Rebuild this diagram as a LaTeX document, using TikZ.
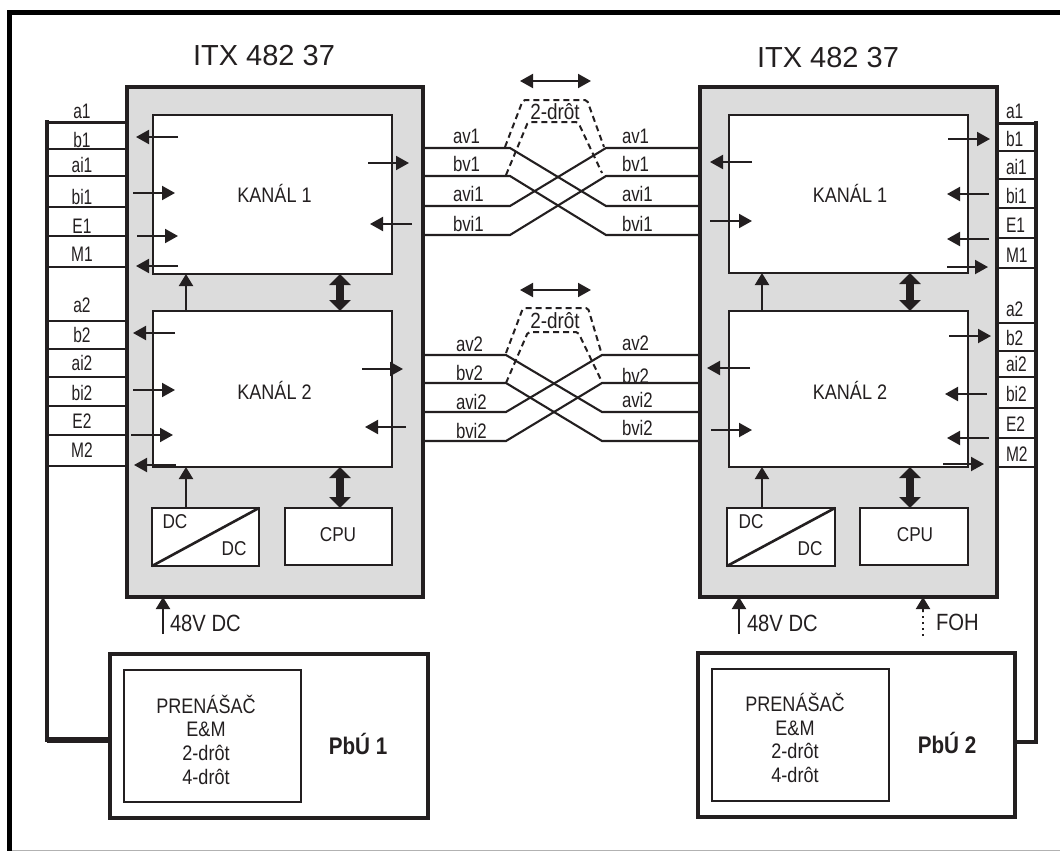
\documentclass[tikz,border=0pt]{standalone}
\usepackage{fontspec}
\setmainfont{Liberation Sans}
\newfontfamily\narrowf[FakeStretch=0.74]{Liberation Sans}
\newfontfamily\wiref[FakeStretch=0.8]{Liberation Sans}
\newfontfamily\midf[FakeStretch=0.86]{Liberation Sans}
\newfontfamily\midbf[FakeStretch=0.86]{Liberation Sans Bold}
\usetikzlibrary{arrows.meta}
\definecolor{ink}{HTML}{231F20}
\definecolor{panel}{HTML}{DCDCDC}
\tikzset{
  unit/.style={draw=ink,line width=4pt,fill=panel,inner sep=0pt,outer sep=0pt},
  block/.style={draw=ink,line width=2.6pt,fill=white,inner sep=0pt,outer sep=0pt},
  pbu/.style={draw=ink,line width=3.6pt,fill=white,inner sep=0pt,outer sep=0pt},
  inner/.style={draw=ink,line width=2.4pt,fill=white,inner sep=0pt,outer sep=0pt},
  frameline/.style={draw=black,line width=4.6pt},
  bus/.style={draw=ink,line width=3.8pt,line cap=rect},
  busthick/.style={draw=ink,line width=5.2pt},
  tap/.style={draw=ink,line width=2.3pt},
  wire/.style={draw=ink,line width=2.1pt},
  dashline/.style={draw=ink,line width=2pt,dash pattern=on 6pt off 4pt,rounded corners=2pt},
  sig/.style={draw=ink,line width=2pt,-{Triangle[length=13pt,width=14pt]}},
  pwr/.style={draw=ink,line width=2pt,-{Triangle[length=12pt,width=14pt]}},
  dbl/.style={draw=ink,line width=2pt,{Triangle[length=13pt,width=14pt]}-{Triangle[length=13pt,width=14pt]}},
  fatdbl/.style={draw=ink,line width=7.5pt,{Triangle[length=11pt,width=21pt]}-{Triangle[length=11pt,width=21pt]}},
  txt/.style={text=ink,inner sep=0pt,outer sep=0pt,anchor=center},
  lab/.style={txt,font=\narrowf\fontsize{21}{21}\selectfont},
  wl/.style={txt,anchor=west,font=\wiref\fontsize{21}{21}\selectfont},
  title/.style={txt,font=\fontsize{29}{29}\selectfont},
  small/.style={txt,font=\midf\fontsize{20}{20}\selectfont},
  chan/.style={txt,font=\midf\fontsize{21}{21}\selectfont},
  drot/.style={txt,font=\midf\fontsize{22}{22}\selectfont},
  feed/.style={txt,anchor=west,font=\midf\fontsize{23.5}{23.5}\selectfont},
  multi/.style={txt,align=center,font=\midf\fontsize{21}{23.7}\selectfont},
  pbul/.style={txt,font=\midbf\fontsize{24}{24}\selectfont},
}
\begin{document}
\begin{tikzpicture}[x=1pt,y=-1pt]
\useasboundingbox (0,0) rectangle (1060,851);
% frame
\coordinate (fbl) at (9.5,851);
\coordinate (ftl) at (9.5,12.5);
\coordinate (ftr) at (1060,12.5);
\coordinate (fbb) at (9.5,850);
\coordinate (fbr) at (1060,850);
\draw[draw=black!30,line width=1pt] (fbb) -- (fbr);
\draw[frameline] (fbl) -- (ftl) -- (ftr);
% units
\node[unit,minimum width=296pt,minimum height=510pt] (U1) at (275,342) {};
\node[unit,minimum width=297pt,minimum height=510pt] (U2) at (848.5,342) {};
\node[block,minimum width=239pt,minimum height=159pt] (K1a) at (272.5,194.5) {};
\node[block,minimum width=239pt,minimum height=156pt] (K2a) at (272.5,389) {};
\node[block,minimum width=239pt,minimum height=158pt] (K1b) at (848.5,194) {};
\node[block,minimum width=239pt,minimum height=156pt] (K2b) at (848.5,389) {};
\node[block,minimum width=107pt,minimum height=58pt] (DCa) at (205.5,537) {};
\node[block,minimum width=107pt,minimum height=57pt] (CPUa) at (338.5,536.5) {};
\node[block,minimum width=108pt,minimum height=58pt] (DCb) at (781,537) {};
\node[block,minimum width=108pt,minimum height=57pt] (CPUb) at (914,536.5) {};
\draw[block] (DCa.south west) -- (DCa.north east);
\draw[block] (DCb.south west) -- (DCb.north east);
\node[pbu,minimum width=318pt,minimum height=164pt] (P1) at (269,736) {};
\node[pbu,minimum width=317pt,minimum height=164pt] (P2) at (856.5,735) {};
\node[inner,minimum width=177pt,minimum height=132pt] (T1) at (212.5,736) {};
\node[inner,minimum width=177pt,minimum height=132pt] (T2) at (800.5,735) {};
% buses
\coordinate (la) at (47,122);
\coordinate (lc) at (47,740);
\coordinate (ra) at (1036,123);
\coordinate (rc) at (1036,742);
\draw[bus] (la) -- (lc);
\draw[busthick] (lc) -- (lc -| P1.west);
\draw[tap,line width=3pt] (la) -- (la -| U1.west);
\foreach \yy in {149,176,207,236,267,321,349,377,406,435,466}{
  \coordinate (lt) at (47,\yy);
  \draw[tap] (lt) -- (lt -| U1.west);
}
\draw[bus] (ra) -- (rc);
\draw[tap,line width=3.4pt] (rc) -- (rc -| P2.east);
\draw[tap,line width=3pt] (ra) -- (ra -| U2.east);
\foreach \yy in {151,179,208,238,268,323,351,377,408,438,467}{
  \coordinate (rt) at (1036,\yy);
  \draw[tap] (rt) -- (rt -| U2.east);
}
% labels
\foreach \tt/\yy in {a1/111,b1/140,ai1/165,bi1/197,E1/226,M1/254,a2/305,b2/335,ai2/363,bi2/393,E2/421,M2/450}{
  \node[lab] (ll\tt) at (82,\yy) {\tt};
}
\foreach \tt/\yy in {a1/111,b1/139,ai1/167,bi1/196,E1/225,M1/255,a2/309,b2/338,ai2/364,bi2/394,E2/424,M2/454}{
  \node[lab,anchor=west] (rl\tt) at (1006,\yy) {\tt};
}
\node[title] (t1) at (264,56) {ITX 482 37};
\node[title] (t2) at (828,58) {ITX 482 37};
\node[chan] (kn1a) at (274.5,193) {KANÁL 1};
\node[chan] (kn2a) at (274.5,390) {KANÁL 2};
\node[chan] (kn1b) at (850,193) {KANÁL 1};
\node[chan] (kn2b) at (850,390) {KANÁL 2};
% signal arrows
\foreach \nm/\xa/\xb/\yy in {a/178/136/137,b/133/175/193,c/137/178/236,d/178/136/266,e/175/133/333,f/133/175/390,g/131/173/435,h/176/134/465,
  i/368/409/163,j/412/370/224,k/362/403/369,l/406/365/427,
  m/752/710/162,n/710/752/221,o/750/707/368,p/711/752/430,
  q/948/990/139,r/989/947/194,s/989/947/239,t/947/988/267,u/949/991/336,v/987/945/394,w/989/947/438,x/943/984/464}{
  \coordinate (s\nm) at (\xa,\yy);
  \coordinate (e\nm) at (\xb,\yy);
  \draw[sig] (s\nm) -- (e\nm);
}
% power arrows
\coordinate (a1x) at (186,0);
\coordinate (a2x) at (762,0);
\draw[pwr] (K2a.north -| a1x) -- (K1a.south -| a1x);
\draw[pwr] (DCa.north -| a1x) -- (K2a.south -| a1x);
\draw[pwr] (K2b.north -| a2x) -- (K1b.south -| a2x);
\draw[pwr] (DCb.north -| a2x) -- (K2b.south -| a2x);
\coordinate (f1x) at (340,0);
\coordinate (f2x) at (910,0);
\draw[fatdbl] (K1a.south -| f1x) -- (K2a.north -| f1x);
\draw[fatdbl] (K2a.south -| f1x) -- (CPUa.north -| f1x);
\draw[fatdbl] (K1b.south -| f2x) -- (K2b.north -| f2x);
\draw[fatdbl] (K2b.south -| f2x) -- (CPUb.north -| f2x);
% feeds
\coordinate (v1) at (163,634);
\coordinate (v2) at (739,634);
\coordinate (fo) at (923,636);
\draw[pwr] (v1) -- (v1 |- U1.south);
\draw[pwr] (v2) -- (v2 |- U2.south);
\coordinate (fomid) at (923,612);
\draw[draw=ink,line width=2pt,dash pattern=on 2pt off 4pt] (fo) -- (fomid);
\draw[pwr] (fomid) -- (fomid |- U2.south);
\node[feed] (v1l) at (170,623) {48V DC};
\node[feed] (v2l) at (747,623) {48V DC};
\node[feed] (fol) at (936,622) {FOH};
% DC, CPU
\node[small] (d1) at (175,522) {DC};
\node[small] (d2) at (234,549) {DC};
\node[small] (c1) at (338,535) {CPU};
\node[small] (d3) at (751,522) {DC};
\node[small] (d4) at (810,549) {DC};
\node[small] (c2) at (915,535) {CPU};
% transmitters
\node[multi] (m1) at (206,739.5) {PRENÁŠAČ\\E\&M\\2-drôt\\4-drôt};
\node[multi] (m2) at (795,738) {PRENÁŠAČ\\E\&M\\2-drôt\\4-drôt};
\node[pbul] (pb1) at (358,744) {PbÚ 1};
\node[pbul] (pb2) at (947,743) {PbÚ 2};
% cross wires
\foreach \nm/\ya/\yb in {a/148/206,b/176/235,c/206/148,d/235/176}{
  \coordinate (pa\nm) at (510,\ya);
  \coordinate (pb\nm) at (606,\yb);
  \draw[wire] (pa\nm -| U1.east) -- (pa\nm) -- (pb\nm) -- (pb\nm -| U2.west);
}
\foreach \nm/\ya/\yb in {a/355/412,b/383/441,c/412/355,d/441/383}{
  \coordinate (qa\nm) at (506,\ya);
  \coordinate (qb\nm) at (602,\yb);
  \draw[wire] (qa\nm -| U1.east) -- (qa\nm) -- (qb\nm) -- (qb\nm -| U2.west);
}
\foreach \tt/\yy in {av1/136,bv1/164,avi1/194,bvi1/224}{
  \node[wl] (wa\tt) at (453,\yy) {\tt};
  \node[wl] (wb\tt) at (622,\yy) {\tt};
}
\foreach \tt/\yy/\yz in {av2/344/343,bv2/373/376,avi2/402/400,bvi2/431/428}{
  \node[wl] (wa\tt) at (456,\yy) {\tt};
  \node[wl] (wb\tt) at (622,\yz) {\tt};
}
% dashed 2-drot
\draw[dashline] (505,147) -- (523,100) -- (587,100) -- (604,147);
\draw[dashline] (506,175) -- (528,122) -- (578,122) -- (602,173);
\draw[dashline] (506,353) -- (523,308) -- (588,308) -- (602,355);
\draw[dashline] (506,383) -- (528,332) -- (578,332) -- (602,382);
\node[drot] (z1) at (555,112) {2-drôt};
\node[drot] (z2) at (555,321) {2-drôt};
\coordinate (ba) at (520,81); \coordinate (bb) at (591,81);
\coordinate (bc) at (520,290); \coordinate (bd) at (591,290);
\draw[dbl] (ba) -- (bb);
\draw[dbl] (bc) -- (bd);
\end{tikzpicture}
\end{document}
